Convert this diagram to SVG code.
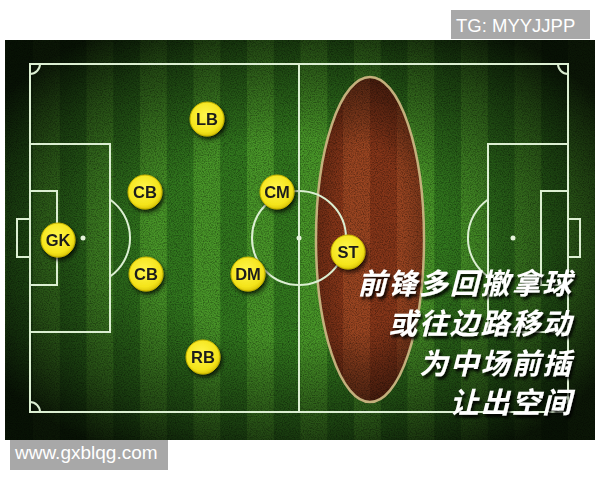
<svg xmlns="http://www.w3.org/2000/svg" width="600" height="480" viewBox="0 0 600 480">
  <defs>
    <style>
      .line { fill: none; stroke: #dcefd2; stroke-width: 2; }
      .spot { fill: #e4f2da; }
      .player circle { fill: url(#yellow); stroke: #c7b400; stroke-width: 1; }
      .player text { font-family: "Liberation Sans", Arial, sans-serif; font-size: 16.5px; font-weight: bold; fill: #1c1c1c; text-anchor: middle; }
      .cn { font-family: "Noto Sans CJK SC", "Noto Sans CJK TC", sans-serif; font-size: 29px; font-weight: bold; font-style: italic; fill: #ffffff; text-anchor: end; letter-spacing: 1.8px; }
      .wm { font-family: "Liberation Sans", Arial, sans-serif; fill: #ffffff; }
    </style>
    <pattern id="grass" patternUnits="userSpaceOnUse" x="140" y="0" width="53.5" height="480">
      <rect x="0" y="0" width="26.75" height="480" fill="#489528"/>
      <rect x="26.75" y="0" width="26.75" height="480" fill="#32781e"/>
    </pattern>
    <pattern id="clay" patternUnits="userSpaceOnUse" x="343" y="0" width="54" height="480">
      <rect x="0" y="0" width="27" height="480" fill="#9a4521"/>
      <rect x="27" y="0" width="27" height="480" fill="#863619"/>
    </pattern>
    <radialGradient id="vignette" cx="50%" cy="50%" r="62%">
      <stop offset="0.4" stop-color="#000" stop-opacity="0"/>
      <stop offset="0.78" stop-color="#000" stop-opacity="0.5"/>
      <stop offset="1" stop-color="#000" stop-opacity="0.85"/>
    </radialGradient>
    <radialGradient id="ellShade" cx="50%" cy="50%" r="55%">
      <stop offset="0.55" stop-color="#000" stop-opacity="0"/>
      <stop offset="1" stop-color="#000" stop-opacity="0.25"/>
    </radialGradient>
    <radialGradient id="yellow" cx="45%" cy="40%" r="60%">
      <stop offset="0" stop-color="#fff64d"/>
      <stop offset="0.8" stop-color="#f4e41a"/>
      <stop offset="1" stop-color="#dcc80a"/>
    </radialGradient>
    <filter id="grain" x="0" y="0" width="100%" height="100%">
      <feTurbulence type="fractalNoise" baseFrequency="0.85" numOctaves="2" seed="7"/>
      <feColorMatrix type="matrix" values="0 0 0 0 0  0 0 0 0 0  0 0 0 0 0  2.2 0 0 0 -0.85"/>
    </filter>
    <filter id="pshadow" x="-40%" y="-40%" width="190%" height="190%">
      <feDropShadow dx="2" dy="3" stdDeviation="2" flood-color="#000" flood-opacity="0.75"/>
    </filter>
    <filter id="tshadow" x="-10%" y="-30%" width="125%" height="170%">
      <feDropShadow dx="2" dy="3" stdDeviation="1.5" flood-color="#000" flood-opacity="0.95"/>
    </filter>
  </defs>

  <rect x="0" y="0" width="600" height="480" fill="#ffffff"/>

  <!-- pitch -->
  <g id="pitch">
    <rect x="5" y="40" width="590" height="400" fill="url(#grass)"/>
    <g id="strip">
      <ellipse cx="370" cy="239.5" rx="54" ry="162.5" fill="url(#clay)"/>
      <ellipse cx="370" cy="239.5" rx="54" ry="162.5" fill="url(#ellShade)"/>
    </g>
    <rect x="5" y="40" width="590" height="400" fill="#000" filter="url(#grain)" opacity="0.4"/>
    <rect x="5" y="40" width="590" height="400" fill="url(#vignette)"/>
    <ellipse cx="370" cy="239.5" rx="54" ry="162.5" fill="none" stroke="#c4b07c" stroke-width="2.5"/>
  </g>

  <!-- markings -->
  <g id="markings">
    <rect class="line" x="30" y="64" width="538" height="348"/>
    <line class="line" x1="299" y1="64" x2="299" y2="412"/>
    <circle class="line" cx="299" cy="238" r="47"/>
    <circle class="spot" cx="299" cy="238" r="2.5"/>
    <!-- left -->
    <rect class="line" x="30" y="144" width="80" height="188"/>
    <rect class="line" x="30" y="191" width="27" height="94"/>
    <rect class="line" x="17" y="219" width="13" height="38"/>
    <circle class="spot" cx="83" cy="238" r="2.5"/>
    <path class="line" d="M110 199.5 A47 47 0 0 1 110 276.5"/>
    <!-- right -->
    <rect class="line" x="488" y="144" width="80" height="188"/>
    <rect class="line" x="541" y="191" width="27" height="94"/>
    <rect class="line" x="568" y="219" width="12" height="38"/>
    <circle class="spot" cx="513" cy="238" r="2.5"/>
    <path class="line" d="M488 199.5 A47 47 0 0 0 488 276.5"/>
    <!-- corners -->
    <path class="line" d="M40 64 A10 10 0 0 1 30 74"/>
    <path class="line" d="M558 64 A10 10 0 0 0 568 74"/>
    <path class="line" d="M30 402 A10 10 0 0 1 40 412"/>
    <path class="line" d="M568 402 A10 10 0 0 0 558 412"/>
  </g>

  <!-- players -->
  <g id="LB" class="player" filter="url(#pshadow)"><circle cx="207" cy="119" r="17"/><text x="207" y="125">LB</text></g>
  <g id="CB1" class="player" filter="url(#pshadow)"><circle cx="145" cy="192" r="17"/><text x="145" y="198">CB</text></g>
  <g id="CM" class="player" filter="url(#pshadow)"><circle cx="277" cy="192" r="17"/><text x="277" y="198">CM</text></g>
  <g id="GK" class="player" filter="url(#pshadow)"><circle cx="58" cy="240" r="17"/><text x="58" y="246">GK</text></g>
  <g id="CB2" class="player" filter="url(#pshadow)"><circle cx="146" cy="274" r="17"/><text x="146" y="280">CB</text></g>
  <g id="DM" class="player" filter="url(#pshadow)"><circle cx="248" cy="274" r="17"/><text x="248" y="280">DM</text></g>
  <g id="RB" class="player" filter="url(#pshadow)"><circle cx="203" cy="357" r="17"/><text x="203" y="363">RB</text></g>
  <g id="ST" class="player" filter="url(#pshadow)"><circle cx="348" cy="252" r="17"/><text x="348" y="258">ST</text></g>

  <!-- caption -->
  <g id="caption" filter="url(#tshadow)">
    <text class="cn" x="573" y="294">前锋多回撤拿球</text>
    <text class="cn" x="573" y="334">或往边路移动</text>
    <text class="cn" x="573" y="374">为中场前插</text>
    <text class="cn" x="573" y="413">让出空间</text>
  </g>

  <!-- watermarks -->
  <g id="wm-tg">
    <rect x="451" y="10" width="139" height="29" fill="#a8a8a8"/>
    <text class="wm" x="456" y="32" font-size="18.5">TG: MYYJJPP</text>
  </g>
  <g id="wm-site">
    <rect x="10" y="440" width="158" height="30" fill="#a8a8a8"/>
    <text class="wm" x="15" y="459" font-size="19">www.gxblqg.com</text>
  </g>
</svg>
